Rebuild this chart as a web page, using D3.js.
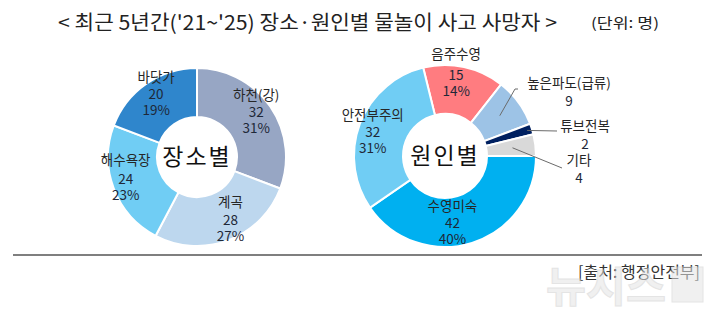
<!DOCTYPE html>
<html>
<head>
<meta charset="utf-8">
<script src="https://cdn.jsdelivr.net/npm/d3@7"></script>
<style>
  body { margin: 0; background: #fff; }
  svg { display: block; }
  text { font-family: "Noto Sans CJK KR", "Noto Sans", sans-serif; }
</style>
</head>
<body>
<svg id="chart"></svg>
<script>
// 장소별
var placeNames = ["하천(강)", "계곡", "해수욕장", "바닷가"];
var placeCounts = [32, 28, 24, 20];
var placeShares = ["31%", "27%", "23%", "19%"];

// 원인별
var causeNames = ["음주수영", "높은파도(급류)", "튜브전복", "기타", "수영미숙", "안전부주의"];
var causeCounts = [15, 9, 2, 4, 42, 32];
var causeShares = ["14%", "", "", "", "40%", "31%"];

var width = 720, height = 328;
var svg = d3.select("#chart").attr("width", width).attr("height", height);

svg.append("text")
   .attr("x", 58).attr("y", 30)
   .attr("font-size", 20).attr("fill", "#222")
   .attr("textLength", 499).attr("lengthAdjust", "spacingAndGlyphs")
   .text("< 최근 5년간('21~'25) 장소·원인별 물놀이 사고 사망자 >");

svg.append("text")
   .attr("x", 591).attr("y", 28)
   .attr("font-size", 14).attr("fill", "#222")
   .attr("textLength", 68).attr("lengthAdjust", "spacingAndGlyphs")
   .text("(단위: 명)");

function donut(opts) {
    var data = opts.names.map(function(n, i) {
        return {name: n, value: opts.counts[i], share: opts.shares[i], i: i};
    });
    var pie = d3.pie().sort(null).value(function(d) { return d.value; })
                .startAngle(opts.start).endAngle(opts.start + 2 * Math.PI);
    var arcs = pie(data);

    var color = d3.scaleOrdinal().domain(opts.names).range(opts.colors);
    var arc = d3.arc().innerRadius(opts.inner).outerRadius(opts.outer);
    var labelArc = d3.arc().innerRadius(opts.labelR).outerRadius(opts.labelR);

    var g = svg.append("g").attr("transform", "translate(" + opts.cx + "," + opts.cy + ")");

    g.selectAll("path.slice")
     .data(arcs)
     .enter().append("path")
     .attr("class", "slice")
     .attr("d", arc)
     .attr("fill", function(d) { return color(d.data.name); })
     .attr("stroke", "#fff")
     .attr("stroke-width", 2);

    g.append("text")
     .attr("text-anchor", "middle")
     .attr("dy", "0.36em")
     .attr("font-size", 23)
     .attr("letter-spacing", 2)
     .attr("fill", "#111")
     .text(opts.title);

    // labels inside slices
    arcs.filter(function(d) { return d.data.share; }).forEach(function(d) {
        var c = labelArc.centroid(d);
        var nud = (opts.nudge && opts.nudge[d.data.name]) || [0, 0, 0];
        var x = c[0] + nud[0], y = c[1] + nud[1];
        var t = g.append("text")
                 .attr("text-anchor", "middle")
                 .attr("font-size", 13.5)
                 .attr("fill", "#1e2838");
        t.append("tspan").attr("x", x).attr("y", y - 16 - nud[2])
         .attr("fill", "#262626").text(d.data.name);
        t.append("tspan").attr("x", x).attr("y", y + 1).text(d.data.value);
        t.append("tspan").attr("x", x).attr("y", y + 17).text(d.data.share);
    });

    // small slices: label outside with leader line
    arcs.filter(function(d) { return !d.data.share; }).forEach(function(d) {
        var o = opts.outside[d.data.name];
        var mid = (d.startAngle + d.endAngle) / 2;
        var sx = Math.sin(mid) * o.r0, sy = -Math.cos(mid) * o.r0;
        g.append("path")
         .attr("d", d3.line()([[sx, sy]].concat(o.path)))
         .attr("fill", "none")
         .attr("stroke", "#6b6b6b")
         .attr("stroke-width", 1);
        var t = g.append("text")
                 .attr("text-anchor", "middle")
                 .attr("font-size", 13.5)
                 .attr("fill", "#1e2838");
        t.append("tspan").attr("x", o.tx).attr("y", o.ty).attr("fill", "#262626").text(d.data.name);
        t.append("tspan").attr("x", o.tx).attr("y", o.ty + 18).text(d.data.value);
    });
}

donut({
    names: placeNames, counts: placeCounts, shares: placeShares,
    colors: ["#97a6c4", "#bdd7ee", "#70cdf4", "#2f86cc"],
    cx: 197, cy: 157, outer: 89, inner: 40, labelR: 72,
    start: 0, title: "장소별",
    nudge: {"계곡": [8, 0, 1], "해수욕장": [-4, 0, 2]}
});

// 기타 slice ends at 3 o'clock
var beforeMiss = d3.sum(causeCounts.slice(0, 4));
donut({
    names: causeNames, counts: causeCounts, shares: causeShares,
    colors: ["#ff7c80", "#9dc3e6", "#002060", "#d9d9d9", "#00b0f0", "#70cdf4"],
    cx: 445, cy: 156, outer: 91, inner: 42, labelR: 72,
    start: Math.PI / 2 - 2 * Math.PI * beforeMiss / d3.sum(causeCounts),
    title: "원인별",
    nudge: {"음주수영": [-4, -7, 4], "수영미숙": [-14, 2, 0], "안전부주의": [-5, 6, 0]},
    outside: {
        "높은파도(급류)": {r0: 68, path: [[70, -67], [73, -67]], tx: 124, ty: -68},
        "튜브전복": {r0: 86, path: [[112, -25]], tx: 140, ty: -25},
        "기타": {r0: 68, path: [[117, 12]], tx: 134, ty: 9}
    }
});

// bottom rule and source
svg.append("line")
   .attr("x1", 13).attr("x2", 702)
   .attr("y1", 255).attr("y2", 255)
   .attr("stroke", "#555").attr("stroke-width", 1.5);

svg.append("text")
   .attr("x", 700).attr("y", 278)
   .attr("text-anchor", "end")
   .attr("font-size", 16).attr("fill", "#333")
   .text("[출처: 행정안전부]");

// watermark
var wm = svg.append("g").attr("opacity", 0.55);
wm.append("text")
  .attr("x", 546).attr("y", 302)
  .attr("font-size", 42).attr("font-weight", "bold")
  .attr("fill", "#e4e4e4").attr("stroke", "#cfcfcf").attr("stroke-width", 1)
  .attr("textLength", 120).attr("lengthAdjust", "spacingAndGlyphs")
  .text("뉴시스");
wm.append("rect")
  .attr("x", 672).attr("y", 267).attr("width", 31).attr("height", 35)
  .attr("fill", "#e4e4e4").attr("stroke", "#cfcfcf");
</script>
</body>
</html>
